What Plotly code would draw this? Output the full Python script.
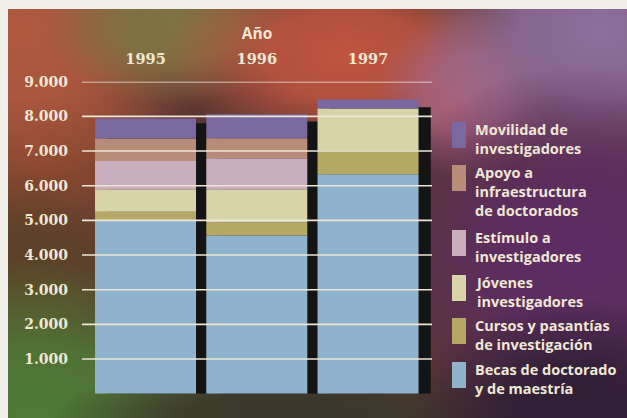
import base64
import numpy as np
import plotly.graph_objects as go

# ---------------------------------------------------------------------------
# Datos
# ---------------------------------------------------------------------------
anios = ['1995', '1996', '1997']
x_pos = [0, 1, 2]

series = [
    'Becas de doctorado y de maestría',
    'Cursos y pasantías de investigación',
    'Jóvenes investigadores',
    'Estímulo a investigadores',
    'Apoyo a infraestructura de doctorados',
    'Movilidad de investigadores',
]
leyenda = [
    'Becas de doctorado<br>y de maestría',
    'Cursos y pasantías<br>de investigación',
    'Jóvenes<br>investigadores',
    'Estímulo a<br>investigadores',
    'Apoyo a<br>infraestructura<br>de doctorados',
    'Movilidad de<br>investigadores',
]
becas = [4980, 4560, 6330]
cursos = [270, 380, 700]
jovenes = [650, 960, 1200]
estimulo = [810, 890, 0]
apoyo = [650, 580, 0]
movilidad = [580, 690, 260]
sombra = [7800, 7850, 8260]   # barra negra de sombra

y_ticks = [1000, 2000, 3000, 4000, 5000, 6000, 7000, 8000, 9000]
y_tick_text = ['1.000', '2.000', '3.000', '4.000', '5.000', '6.000', '7.000', '8.000', '9.000']

colores = ['#8fb3cc', '#b5a864', '#d8d4aa', '#c9afbe', '#b78c78', '#7a68a0']

valores = [becas, cursos, jovenes, estimulo, apoyo, movilidad]

# ---------------------------------------------------------------------------
# Fondo degradado (imagen SVG)
# ---------------------------------------------------------------------------
manchas = [
    (40, 150, 130, 130, '#8a4830'),
    (35, 270, 110, 100, '#5c4228'),
    (20, 30, 210, 150, '#b05a40'),
    (175, 25, 130, 80, '#7e7442'),
    (345, 55, 180, 100, '#bf5540'),
    (465, 95, 90, 85, '#a8627c'),
    (600, 30, 180, 150, '#8e6e9c'),
    (585, 255, 220, 190, '#5c2c64'),
    (30, 418, 230, 160, '#4e7c36'),
    (290, 418, 240, 55, '#38382a'),
    (575, 418, 170, 120, '#2e1e36'),
]
defs = ''
cuerpos = ''
for i, (cx, cy, rx, ry, c) in enumerate(manchas):
    defs += (f'<radialGradient id="g{i}"><stop offset="0" stop-color="{c}" stop-opacity="1"/>'
             f'<stop offset="0.45" stop-color="{c}" stop-opacity="0.85"/>'
             f'<stop offset="1" stop-color="{c}" stop-opacity="0"/></radialGradient>')
    cuerpos += f'<ellipse cx="{cx}" cy="{cy}" rx="{rx}" ry="{ry}" fill="url(#g{i})"/>'
svg = (f'<svg xmlns="http://www.w3.org/2000/svg" width="619" height="409" viewBox="8 9 619 409">'
       f'<defs>{defs}</defs><rect x="0" y="0" width="627" height="418" fill="#5a3632"/>{cuerpos}</svg>')
fondo = 'data:image/svg+xml;base64,' + base64.b64encode(svg.encode()).decode()

# ---------------------------------------------------------------------------
# Gráfico
# ---------------------------------------------------------------------------
W, H = 627, 418
ancho = 0.908
texto = '#efe8d6'

fig = go.Figure()

# sombra
fig.add_trace(go.Bar(
    x=x_pos, y=sombra, width=ancho, offset=-ancho / 2 + 0.11,
    marker=dict(color='#141414', line_width=0), showlegend=False, hoverinfo='skip'))

base = np.zeros(3)
for nombre, vals, col in zip(series, valores, colores):
    fig.add_trace(go.Bar(
        x=x_pos, y=vals, base=base.copy(), name=nombre, width=ancho,
        marker=dict(color=col, line_width=0), opacity=1, showlegend=False,
        hovertemplate=f'{nombre}: %{{y}}<extra></extra>'))
    base += np.array(vals)

# líneas de cuadrícula por encima de las barras
for v in y_ticks:
    fig.add_shape(type='line', xref='x domain', x0=0, x1=1, yref='y', y0=v, y1=v,
                  line=dict(color='#ece6d6', width=1.6), layer='above')

# leyenda manual
sw_top = [362, 318, 275, 230, 165, 122]
for lab, col, top in zip(leyenda, colores, sw_top):
    fig.add_shape(type='rect', xref='paper', yref='paper',
                  x0=452 / W, x1=466 / W, y0=1 - top / H, y1=1 - (top + 26) / H,
                  fillcolor=col, line_width=0)
    fig.add_annotation(text=lab, xref='paper', yref='paper', x=473 / W, y=1 - (top - 4) / H,
                       xanchor='left', yanchor='top', align='left', showarrow=False,
                       font=dict(family='Open Sans', size=14.5, color=texto, weight='bold'))

fig.add_layout_image(source=fondo, xref='paper', yref='paper', x=8 / W, y=1 - 9 / H,
                     sizex=1 - 8 / W, sizey=1 - 9 / H, sizing='stretch', layer='below',
                     xanchor='left', yanchor='top')

fig.update_layout(
    width=W, height=H,
    margin=dict(l=0, r=0, t=0, b=0),
    barmode='overlay',
    paper_bgcolor='#efeee8',
    plot_bgcolor='rgba(0,0,0,0)',
    showlegend=False,
    xaxis=dict(domain=[82 / W, 432 / W], range=[-0.571, 2.575], side='top',
               tickvals=x_pos, ticktext=anios, showgrid=False, zeroline=False,
               showline=False, ticks='', ticklabelstandoff=14, automargin=False,
               tickfont=dict(family='DejaVu Serif', size=14.5, color=texto, weight='bold'),
               title=dict(text='Año', standoff=6,
                          font=dict(family='Open Sans', size=15.5, color=texto, weight='bold'))),
    yaxis=dict(domain=[1 - 393.7 / H, 1 - 81.7 / H], range=[0, 9000],
               tickvals=y_ticks, ticktext=y_tick_text, showgrid=False, zeroline=False,
               showline=False, ticks='', ticklabelstandoff=13, automargin=False,
               tickfont=dict(family='DejaVu Serif', size=14, color=texto, weight='bold')),
)

fig.write_html('out.html', config={'displayModeBar': False},
               post_script="document.body.style.margin='0';document.body.style.overflow='hidden';")
